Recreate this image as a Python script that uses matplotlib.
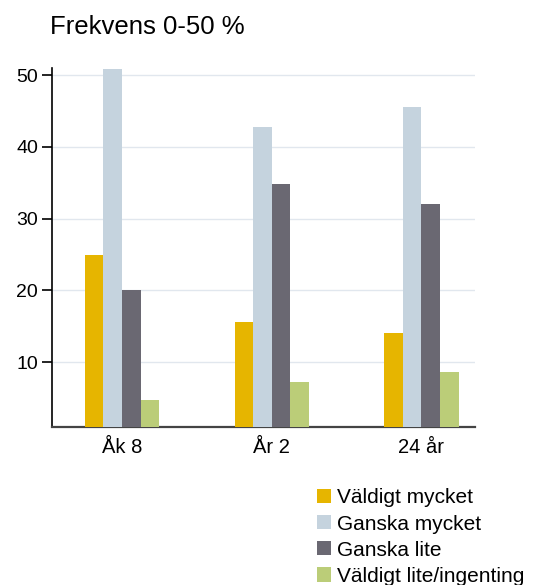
import numpy as np
import matplotlib
matplotlib.use("Agg")
import matplotlib.pyplot as plt
from matplotlib.patches import Patch

plt.rcParams['font.family'] = ['Liberation Sans', 'DejaVu Sans']

# ------------------------------------------------------------------
# Data
# ------------------------------------------------------------------
groups = ["Åk 8", "År 2", "24 år"]
series = ["Väldigt mycket", "Ganska mycket", "Ganska lite", "Väldigt lite/ingenting"]
val_valdigt_mycket = [24.9, 15.6, 14.1]
val_ganska_mycket = [50.9, 42.8, 45.6]
val_ganska_lite = [20.0, 34.9, 32.0]
val_valdigt_lite = [4.7, 7.2, 8.6]
values = [val_valdigt_mycket, val_ganska_mycket, val_ganska_lite, val_valdigt_lite]
yticks = [10, 20, 30, 40, 50]

colors = ["#E6B500", "#C5D3DE", "#6A6872", "#BBCD78"]

# ------------------------------------------------------------------
# Figure
# ------------------------------------------------------------------
fig = plt.figure(figsize=(5.34, 5.85), dpi=100)
ax = fig.add_axes([0.0974, 0.2706, 0.792, 0.613])

x = np.arange(len(groups))
w = 0.124
for i, (vals, col) in enumerate(zip(values, colors)):
    ax.bar(x + (i - 1.5) * w, vals, width=w, color=col, label=series[i], zorder=3)

ax.set_xlim(-0.467, 2.357)
ax.set_ylim(1, 51)
ax.set_yticks(yticks)
ax.set_xticks(x)
ax.set_xticklabels(groups)

ax.grid(axis='y', color='#E1E7EE', linewidth=1.0, zorder=0)
for s in ['top', 'right']:
    ax.spines[s].set_visible(False)
ax.spines['left'].set_color('black')
ax.spines['left'].set_linewidth(1.2)
ax.spines['bottom'].set_color('#444444')
ax.spines['bottom'].set_linewidth(1.6)

ax.tick_params(axis='y', direction='out', length=7, width=1.2, labelsize=14, pad=3)
ax.tick_params(axis='x', length=0, labelsize=14.5, pad=8)

fig.text(0.0936, 1 - 34 / 585, "Frekvens 0-50 %", fontsize=18.5, va='baseline', ha='left')

handles = [Patch(facecolor=c, edgecolor='none') for c in colors]
fig.legend(handles, series, loc='upper left', bbox_to_anchor=(0.5936, 0.165),
           frameon=False, fontsize=15, handlelength=0.67, handleheight=0.67,
           handletextpad=0.3, labelspacing=0.34, borderpad=0, borderaxespad=0)

fig.savefig("out.png", dpi=100)
